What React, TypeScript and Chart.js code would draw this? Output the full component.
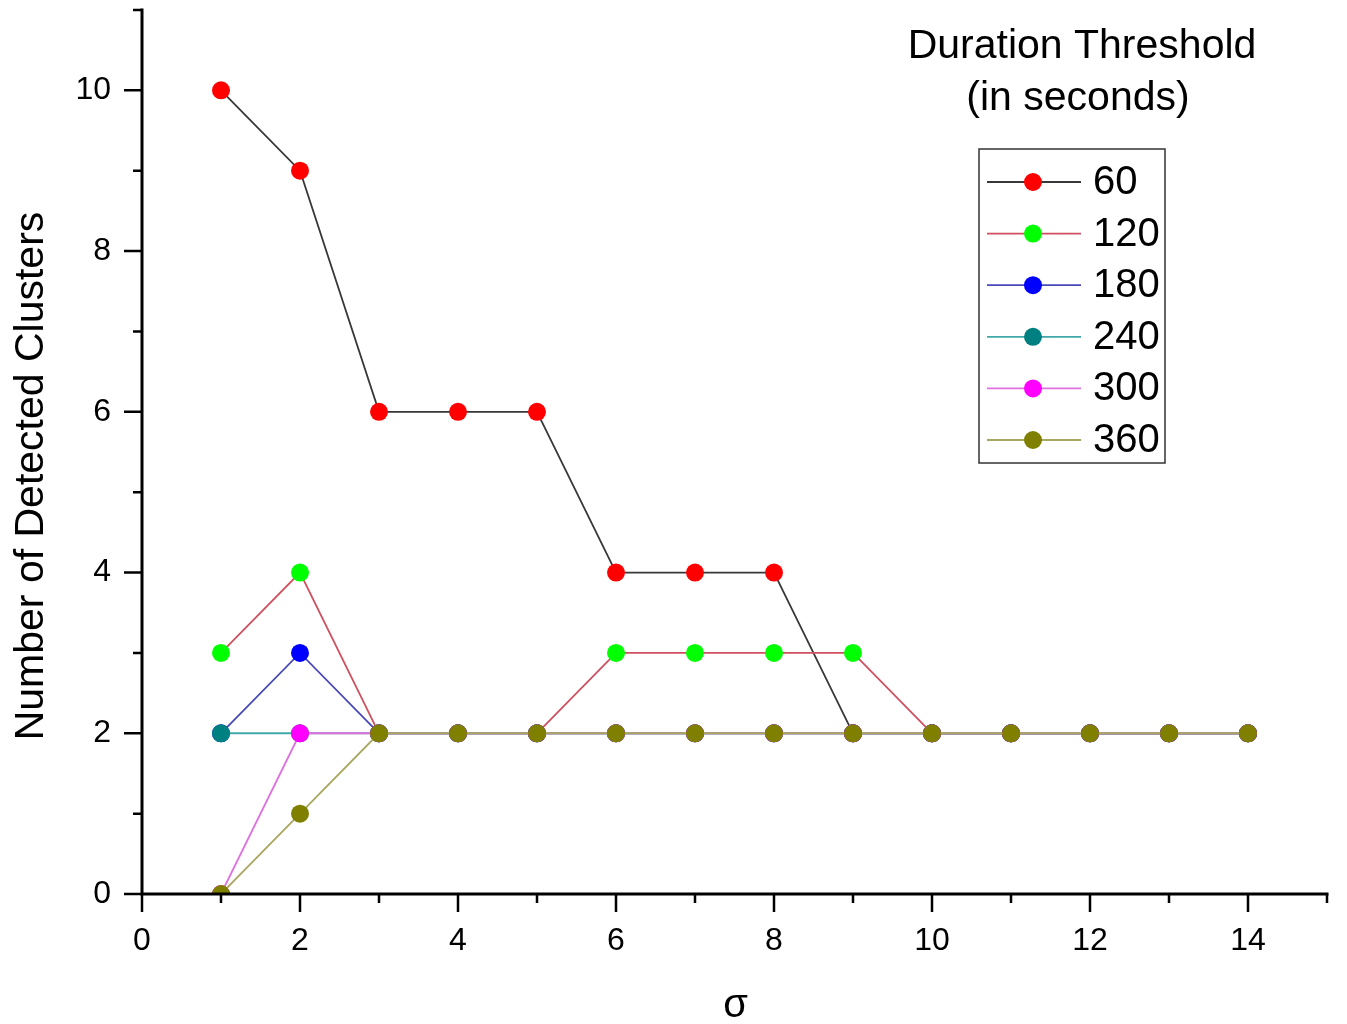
import React, { useEffect, useRef } from "react";
import { Chart, registerables } from "chart.js";

Chart.register(...registerables);

// ---- data ----
const sigmaValues = [1, 2, 3, 4, 5, 6, 7, 8, 9, 10, 11, 12, 13, 14];
const series60 = [10, 9, 6, 6, 6, 4, 4, 4, 2, 2, 2, 2, 2, 2];
const series120 = [3, 4, 2, 2, 2, 3, 3, 3, 3, 2, 2, 2, 2, 2];
const series180 = [2, 3, 2, 2, 2, 2, 2, 2, 2, 2, 2, 2, 2, 2];
const series240 = [2, 2, 2, 2, 2, 2, 2, 2, 2, 2, 2, 2, 2, 2];
const series300 = [0, 2, 2, 2, 2, 2, 2, 2, 2, 2, 2, 2, 2, 2];
const series360 = [0, 1, 2, 2, 2, 2, 2, 2, 2, 2, 2, 2, 2, 2];
const seriesLabels = ["60", "120", "180", "240", "300", "360"];
const allSeries = [series60, series120, series180, series240, series300, series360];
const xLabeledTicks = [0, 2, 4, 6, 8, 10, 12, 14];
const yLabeledTicks = [0, 2, 4, 6, 8, 10];
const xTitle = "σ";
const yTitle = "Number of Detected Clusters";
const legendTitle = ["Duration Threshold", "(in seconds)"];

// ---- styles ----
const markerColors = ["#ff0000", "#00ff00", "#0000ff", "#008080", "#ff00ff", "#808000"];
const lineColors = ["#383838", "#d05060", "#4848b8", "#40a8a8", "#e070e0", "#a8a860"];
const FONT = "'Liberation Sans', Arial, sans-serif";

const axesPlugin = {
  id: "originAxes",
  afterDatasetsDraw(chart: any) {
    const { ctx, chartArea } = chart;
    const xs = chart.scales.x;
    const ys = chart.scales.y;
    ctx.save();
    ctx.strokeStyle = "#000";
    ctx.lineWidth = 3;
    ctx.lineCap = "butt";
    ctx.beginPath();
    ctx.moveTo(chartArea.left - 1.5, chartArea.bottom);
    ctx.lineTo(chartArea.right + 1.5, chartArea.bottom);
    ctx.moveTo(chartArea.left, chartArea.top - 1.5);
    ctx.lineTo(chartArea.left, chartArea.bottom + 1.5);
    ctx.stroke();
    ctx.lineWidth = 2.5;
    ctx.beginPath();
    for (let v = xs.min; v <= xs.max; v += 1) {
      const px = xs.getPixelForValue(v);
      const len = xLabeledTicks.includes(v) ? 18 : 9;
      ctx.moveTo(px, chartArea.bottom);
      ctx.lineTo(px, chartArea.bottom + len);
    }
    for (let v = ys.min; v <= ys.max; v += 1) {
      const py = ys.getPixelForValue(v);
      const len = yLabeledTicks.includes(v) ? 18 : 9;
      ctx.moveTo(chartArea.left, py);
      ctx.lineTo(chartArea.left - len, py);
    }
    ctx.stroke();
    ctx.restore();
  },
  afterDraw(chart: any) {
    const { ctx, chartArea } = chart;
    ctx.save();
    ctx.fillStyle = "#000";
    ctx.font = `40px ${FONT}`;
    ctx.textAlign = "center";
    ctx.textBaseline = "alphabetic";
    ctx.fillText(xTitle, (chartArea.left + chartArea.right) / 2 + 1, 1017);
    ctx.save();
    ctx.translate(43, 476);
    ctx.rotate(-Math.PI / 2);
    ctx.font = `41px ${FONT}`;
    ctx.fillText(yTitle, 0, 0);
    ctx.restore();
    ctx.font = `41px ${FONT}`;
    ctx.fillText(legendTitle[0], 1082, 58);
    ctx.fillText(legendTitle[1], 1078, 110);
    ctx.strokeStyle = "#333";
    ctx.lineWidth = 1.5;
    ctx.strokeRect(979, 149, 186, 314);
    const rowY0 = 182;
    const rowGap = 51.6;
    chart.data.datasets.forEach((ds: any, i: number) => {
      const y = rowY0 + i * rowGap;
      ctx.strokeStyle = ds.borderColor;
      ctx.lineWidth = 1.8;
      ctx.beginPath();
      ctx.moveTo(987, y);
      ctx.lineTo(1081, y);
      ctx.stroke();
      ctx.fillStyle = ds.pointBackgroundColor;
      ctx.beginPath();
      ctx.arc(1033, y, 9, 0, Math.PI * 2);
      ctx.fill();
      ctx.fillStyle = "#000";
      ctx.font = `40px ${FONT}`;
      ctx.textAlign = "left";
      ctx.textBaseline = "middle";
      ctx.fillText(ds.label, 1093, y + 1);
    });
    ctx.restore();
  },
};

export default function App() {
  const canvasRef = useRef<HTMLCanvasElement | null>(null);

  useEffect(() => {
    if (!canvasRef.current) return;
    const datasets = allSeries.map((s, i) => ({
      label: seriesLabels[i],
      data: s.map((y, j) => ({ x: sigmaValues[j], y })),
      borderColor: lineColors[i],
      borderWidth: 1.8,
      pointBackgroundColor: markerColors[i],
      pointBorderColor: markerColors[i],
      pointBorderWidth: 0,
      pointRadius: 9,
      pointHoverRadius: 9,
      tension: 0,
      fill: false,
      clip: 0,
      order: allSeries.length - i,
    }));
    const chart = new Chart(canvasRef.current, {
      type: "line",
      data: { datasets },
      plugins: [axesPlugin],
      options: {
        animation: false,
        responsive: false,
        maintainAspectRatio: false,
        layout: { padding: { left: 0, right: 20, top: 10, bottom: 0 } },
        plugins: {
          legend: { display: false },
          tooltip: { enabled: false },
          title: { display: false },
        },
        scales: {
          x: {
            type: "linear",
            min: 0,
            max: 15,
            grid: { display: false, drawTicks: false },
            border: { display: false },
            ticks: {
              stepSize: 1,
              autoSkip: false,
              maxRotation: 0,
              padding: 28,
              color: "#000",
              font: { family: FONT, size: 32 },
              callback: (v: any) => (xLabeledTicks.includes(Number(v)) ? String(v) : ""),
            },
            afterFit: (scale: any) => {
              scale.height = 130;
              scale.paddingLeft = 0;
              scale.paddingRight = 0;
            },
          },
          y: {
            type: "linear",
            min: 0,
            max: 11,
            grid: { display: false, drawTicks: false },
            border: { display: false },
            ticks: {
              stepSize: 1,
              autoSkip: false,
              padding: 31,
              color: "#000",
              font: { family: FONT, size: 32 },
              callback: (v: any) => (yLabeledTicks.includes(Number(v)) ? String(v) : ""),
            },
            afterFit: (scale: any) => {
              scale.width = 142;
              scale.paddingTop = 0;
              scale.paddingBottom = 0;
            },
          },
        },
      },
    });
    return () => chart.destroy();
  }, []);

  return (
    <div style={{ position: "absolute", left: 0, top: 0, width: 1347, height: 1024, background: "#fff" }}>
      <canvas ref={canvasRef} width={1347} height={1024} style={{ width: 1347, height: 1024, display: "block" }} />
    </div>
  );
}
